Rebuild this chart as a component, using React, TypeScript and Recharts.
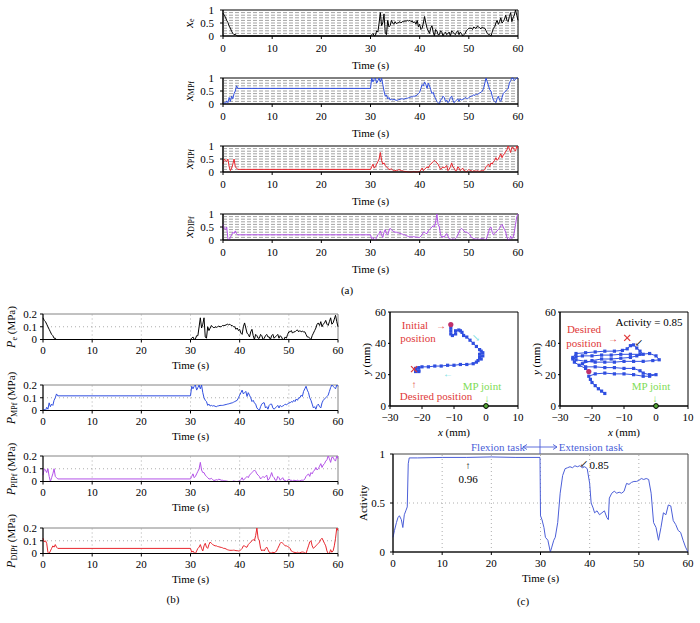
import React from 'react';
import { LineChart, Line, XAxis, YAxis, ReferenceLine, ReferenceArea, ScatterChart, Scatter } from 'recharts';

const FONT = '"Liberation Serif", "DejaVu Serif", serif';
const BLACK = '#000000';
const BLUE = '#2f4ee0';
const RED = '#e8262d';
const PURPLE = '#b352e8';
const ACT_BLUE = '#4c5fd8';
const ANN_RED = '#e03a3a';
const ANN_GREEN = '#7edc55';
const ANN_CYAN = '#6fdde0';

// ---- time samples (s) shared by panels (a) and (b)
const TIME = [
  0, 0.25, 0.5, 0.75, 1, 1.25, 1.5, 1.75, 2, 2.25, 2.5, 2.75, 3,
  30,
  30.25, 30.5, 30.75, 31, 31.25, 31.5, 31.75, 32, 32.25, 32.5, 32.75, 33,
  33.25, 33.5, 33.75, 34, 34.25, 34.5, 34.75, 35, 35.25, 35.5, 35.75, 36,
  36.25, 36.5, 36.75, 37, 37.25, 37.5, 37.75, 38, 38.25, 38.5, 38.75, 39,
  39.25, 39.5, 39.75, 40, 40.25, 40.5, 40.75, 41, 41.25, 41.5, 41.75, 42,
  42.25, 42.5, 42.75, 43, 43.25, 43.5, 43.75, 44, 44.25, 44.5, 44.75, 45,
  45.25, 45.5, 45.75, 46, 46.25, 46.5, 46.75, 47, 47.25, 47.5, 47.75, 48,
  48.25, 48.5, 48.75, 49, 49.25, 49.5, 49.75, 50, 50.25, 50.5, 50.75, 51,
  51.25, 51.5, 51.75, 52, 52.25, 52.5, 52.75, 53, 53.25, 53.5, 53.75, 54,
  54.25, 54.5, 54.75, 55, 55.25, 55.5, 55.75, 56, 56.25, 56.5, 56.75, 57,
  57.25, 57.5, 57.75, 58, 58.25, 58.5, 58.75, 59, 59.25, 59.5, 59.75, 60,
];

// ---- panel (a): normalised commands
const XE = [
  0.88, 0.8, 0.72, 0.6, 0.52, 0.38, 0.3, 0.18, 0.1, 0.05, 0.07, 0.02, 0,
  0,
  0.05, 0.1, 0, 0.02, 0.2, 0.15, 0.5, 0.9, 0.4, 0.5, 0.85, 0.1,
  0.05, 0.6, 0.35, 0.4, 0.6, 0.5, 0.45, 0.55, 0.48, 0.5, 0.52, 0.55,
  0.5, 0.56, 0.55, 0.58, 0.57, 0.6, 0.58, 0.6, 0.55, 0.58, 0.5, 0.55,
  0.45, 0.6, 0.35, 0.45, 0.25, 0.3, 0.5, 0.75, 0.5, 0.3, 0.2, 0.1,
  0.3, 0.4, 0.15, 0, 0.25, 0.2, 0.05, 0.05, 0.2, 0.15, 0, 0.1,
  0.15, 0.05, 0.1, 0.15, 0, 0.2, 0.15, 0.1, 0.05, 0.15, 0.2, 0.05,
  0.15, 0.1, 0, 0.05, 0.1, 0.2, 0.25, 0.3, 0.3, 0.3, 0.25, 0.35,
  0.3, 0.3, 0.38, 0.35, 0.3, 0.28, 0.35, 0.3, 0.3, 0.2, 0.1, 0.05,
  0.05, 0, 0.15, 0.3, 0.35, 0.5, 0.6, 0.45, 0.55, 0.7, 0.5, 0.55,
  0.65, 0.8, 0.6, 0.55, 0.75, 0.9, 0.55, 0.7, 0.8, 1, 0.8, 0.6,
];
const XMPF = [
  0, 0.05, 0.02, 0.12, 0.05, 0.25, 0.1, 0.3, 0.2, 0.4, 0.5, 0.7, 0.6,
  0.6,
  1, 0.85, 0.95, 1, 0.8, 0.9, 1, 0.85, 1, 0.75, 0.5, 0.3,
  0.35, 0.2, 0.25, 0.15, 0.2, 0.15, 0.18, 0.16, 0.14, 0.15, 0.17, 0.18,
  0.2, 0.2, 0.18, 0.2, 0.22, 0.22, 0.24, 0.25, 0.28, 0.27, 0.3, 0.3,
  0.32, 0.35, 0.4, 0.45, 0.6, 0.75, 0.7, 0.85, 0.75, 0.6, 0.8, 0.7,
  0.55, 0.4, 0.45, 0.3, 0.2, 0.1, 0.05, 0, 0.15, 0.2, 0.3, 0.25,
  0.1, 0.15, 0.05, 0.1, 0.25, 0.3, 0.15, 0.05, 0.1, 0.15, 0.2, 0.1,
  0.2, 0.15, 0.18, 0.2, 0.25, 0.22, 0.2, 0.25, 0.28, 0.3, 0.32, 0.35,
  0.33, 0.38, 0.36, 0.4, 0.43, 0.45, 0.5, 0.6, 0.8, 1, 0.85, 0.7,
  0.55, 0.5, 0.3, 0.15, 0.1, 0.05, 0.2, 0.3, 0.15, 0.1, 0.25, 0.4,
  0.45, 0.5, 0.55, 0.6, 0.8, 0.9, 1, 1, 0.9, 0.95, 1, 1,
];
const XPIPF = [
  0.3, 0.5, 0.45, 0.4, 0.5, 0.2, 0.05, 0.15, 0.3, 0.5, 0.2, 0.15, 0.1,
  0.1,
  0.2, 0.3, 0.15, 0.2, 0.3, 0.4, 0.5, 0.75, 0.45, 0.3, 0.35, 0.25,
  0.2, 0.15, 0.1, 0.1, 0.12, 0.08, 0.04, 0.05, 0.07, 0.06, 0.09, 0.08,
  0.05, 0.05, 0.03, 0.02, 0.02, 0.01, 0, 0, 0, 0, 0.02, 0.01,
  0, 0, 0.01, 0.02, 0.08, 0.15, 0.05, 0.1, 0.15, 0.2, 0.15, 0.25,
  0.3, 0.35, 0.4, 0.45, 0.4, 0.35, 0.3, 0.2, 0.1, 0.15, 0.2, 0.15,
  0.2, 0.25, 0.05, 0.1, 0.2, 0.35, 0.2, 0.15, 0.05, 0.05, 0.2, 0.15,
  0.05, 0.1, 0.15, 0.05, 0.05, 0, 0.05, 0.1, 0.05, 0.05, 0.02, 0.05,
  0.04, 0.03, 0.05, 0.03, 0.02, 0.05, 0.05, 0.05, 0.1, 0.2, 0.25, 0.3,
  0.2, 0.35, 0.3, 0.4, 0.45, 0.55, 0.45, 0.5, 0.6, 0.7, 0.55, 0.65,
  0.7, 0.8, 0.85, 1, 0.9, 0.75, 0.95, 0.95, 0.85, 0.8, 1, 0.9,
];
const XDIPF = [
  0.6, 0.45, 0.4, 0.5, 0.05, 0, 0.1, 0.2, 0.3, 0.25, 0.35, 0.25, 0.2,
  0.2,
  0.05, 0.1, 0.02, 0, 0.1, 0.2, 0.25, 0.35, 0.2, 0.1, 0.3, 0.4,
  0.25, 0.2, 0.35, 0.45, 0.4, 0.35, 0.32, 0.3, 0.3, 0.28, 0.27, 0.25,
  0.24, 0.22, 0.2, 0.2, 0.17, 0.15, 0.13, 0.12, 0.12, 0.12, 0.13, 0.12,
  0.11, 0.11, 0.1, 0.1, 0.15, 0.2, 0.3, 0.3, 0.25, 0.25, 0.35, 0.4,
  0.45, 0.5, 0.55, 0.5, 0.7, 1, 0.6, 0.5, 0.2, 0.1, 0.15, 0.1,
  0.2, 0.25, 0.15, 0.05, 0.03, 0.02, 0.05, 0.02, 0.05, 0.1, 0.2, 0.3,
  0.4, 0.45, 0.4, 0.35, 0.3, 0.3, 0.28, 0.25, 0.2, 0.1, 0.08, 0.05,
  0.04, 0.03, 0.05, 0.03, 0.02, 0.05, 0.06, 0.05, 0.02, 0, 0.15, 0.3,
  0.45, 0.5, 0.3, 0.2, 0.25, 0.3, 0.35, 0.4, 0.45, 0.55, 0.6, 0.5,
  0.4, 0.3, 0.1, 0, 0, 0.15, 0.05, 0.1, 0.3, 0.6, 0.9, 1,
];

// ---- panel (b): pressures (MPa)
const PE = [
  0.17, 0.15, 0.14, 0.12, 0.1, 0.08, 0.06, 0.04, 0.03, 0.01, 0.01, 0, 0,
  0,
  0.01, 0.02, 0, 0.005, 0.03, 0.03, 0.1, 0.17, 0.09, 0.12, 0.17, 0.02,
  0.01, 0.1, 0.07, 0.09, 0.11, 0.1, 0.09, 0.1, 0.095, 0.1, 0.105, 0.1,
  0.1, 0.11, 0.11, 0.11, 0.115, 0.12, 0.115, 0.12, 0.11, 0.11, 0.1, 0.1,
  0.08, 0.09, 0.07, 0.08, 0.05, 0.04, 0.1, 0.13, 0.09, 0.05, 0.04, 0.02,
  0.06, 0.08, 0.03, 0, 0.04, 0.03, 0.01, 0.01, 0.04, 0.03, 0, 0.01,
  0.03, 0.04, 0.02, 0.02, 0, 0.03, 0.04, 0.01, 0.02, 0.03, 0.04, 0.01,
  0.03, 0.02, 0, 0, 0.02, 0.01, 0.04, 0.06, 0.06, 0.07, 0.05, 0.06,
  0.06, 0.07, 0.075, 0.06, 0.07, 0.06, 0.065, 0.06, 0.06, 0.04, 0.02, 0.02,
  0.01, 0, 0.03, 0.05, 0.07, 0.09, 0.12, 0.13, 0.11, 0.14, 0.1, 0.12,
  0.13, 0.15, 0.12, 0.11, 0.14, 0.17, 0.12, 0.13, 0.16, 0.19, 0.14, 0.1,
];
const PMPF = [
  0, 0.01, 0, 0.025, 0.01, 0.06, 0.03, 0.05, 0.04, 0.08, 0.1, 0.13, 0.115,
  0.115,
  0.19, 0.17, 0.19, 0.2, 0.16, 0.18, 0.2, 0.17, 0.2, 0.14, 0.1, 0.08,
  0.07, 0.04, 0.05, 0.035, 0.04, 0.035, 0.038, 0.033, 0.03, 0.035, 0.037, 0.04,
  0.04, 0.04, 0.042, 0.045, 0.047, 0.05, 0.052, 0.055, 0.058, 0.06, 0.065, 0.07,
  0.075, 0.08, 0.1, 0.12, 0.14, 0.16, 0.13, 0.14, 0.15, 0.11, 0.14, 0.12,
  0.1, 0.07, 0.08, 0.06, 0.05, 0.02, 0.01, 0, 0.03, 0.05, 0.06, 0.06,
  0.02, 0.03, 0.01, 0.04, 0.05, 0.05, 0.02, 0.01, 0.02, 0.03, 0.04, 0.02,
  0.04, 0.03, 0.035, 0.04, 0.05, 0.045, 0.05, 0.06, 0.06, 0.07, 0.065, 0.08,
  0.07, 0.09, 0.08, 0.1, 0.1, 0.12, 0.11, 0.15, 0.17, 0.19, 0.16, 0.14,
  0.1, 0.08, 0.05, 0.02, 0.03, 0.01, 0.04, 0.05, 0.03, 0.02, 0.06, 0.08,
  0.09, 0.1, 0.11, 0.12, 0.15, 0.18, 0.2, 0.19, 0.18, 0.17, 0.2, 0.19,
];
const PPIPF = [
  0.05, 0.1, 0.09, 0.07, 0.1, 0.04, 0, 0.03, 0.06, 0.1, 0.04, 0.03, 0.02,
  0.02,
  0.04, 0.06, 0.03, 0.04, 0.06, 0.08, 0.1, 0.15, 0.09, 0.07, 0.07, 0.05,
  0.04, 0.03, 0.02, 0.02, 0.025, 0.015, 0.008, 0.01, 0.014, 0.012, 0.018, 0.015,
  0.01, 0.01, 0.006, 0.005, 0.004, 0.002, 0, 0, 0, 0, 0.004, 0.002,
  0, 0, 0.002, 0.005, 0.015, 0.03, 0.01, 0.02, 0.03, 0.04, 0.03, 0.05,
  0.06, 0.07, 0.08, 0.09, 0.08, 0.06, 0.05, 0.04, 0.02, 0.03, 0.04, 0.03,
  0.04, 0.05, 0.01, 0.02, 0.04, 0.07, 0.04, 0.03, 0.01, 0.01, 0.04, 0.03,
  0.01, 0.02, 0.03, 0.01, 0.01, 0, 0.01, 0.02, 0.01, 0.01, 0.004, 0.01,
  0.008, 0.005, 0.01, 0.005, 0.004, 0.01, 0.01, 0.01, 0.02, 0.04, 0.05, 0.06,
  0.04, 0.07, 0.06, 0.08, 0.09, 0.11, 0.09, 0.1, 0.12, 0.14, 0.11, 0.13,
  0.14, 0.16, 0.17, 0.2, 0.18, 0.15, 0.19, 0.19, 0.17, 0.16, 0.2, 0.18,
];
const PDIPF = [
  0.12, 0.09, 0.1, 0.08, 0.01, 0, 0.02, 0.04, 0.06, 0.05, 0.07, 0.05, 0.04,
  0.04,
  0.01, 0.02, 0.005, 0, 0.02, 0.04, 0.05, 0.07, 0.04, 0.02, 0.06, 0.08,
  0.05, 0.04, 0.07, 0.09, 0.08, 0.07, 0.065, 0.06, 0.06, 0.055, 0.053, 0.05,
  0.048, 0.045, 0.04, 0.04, 0.035, 0.03, 0.027, 0.025, 0.025, 0.025, 0.026, 0.025,
  0.022, 0.022, 0.02, 0.02, 0.03, 0.04, 0.06, 0.06, 0.05, 0.05, 0.07, 0.08,
  0.09, 0.1, 0.11, 0.1, 0.14, 0.2, 0.12, 0.1, 0.04, 0.02, 0.03, 0.02,
  0.04, 0.05, 0.03, 0.01, 0.006, 0.005, 0.01, 0.005, 0.01, 0.02, 0.04, 0.06,
  0.08, 0.09, 0.08, 0.07, 0.06, 0.06, 0.055, 0.05, 0.04, 0.02, 0.015, 0.01,
  0.008, 0.005, 0.01, 0.005, 0.005, 0.01, 0.012, 0.01, 0.005, 0, 0.03, 0.06,
  0.09, 0.1, 0.06, 0.04, 0.05, 0.06, 0.07, 0.08, 0.09, 0.11, 0.12, 0.1,
  0.08, 0.06, 0.02, 0, 0, 0.03, 0.01, 0.02, 0.06, 0.12, 0.2, 0.18,
];

// ---- panel (c): activity
const ACT_T = [
  0, 0.3, 0.7, 1, 1.3, 1.7, 2, 2.3, 2.6, 2.9,
  3.1, 3.3, 5, 10, 15, 20, 25, 29.9, 30, 30.3,
  30.7, 31, 31.5, 32, 32.3, 32.7, 33, 33.5, 34, 34.5,
  35, 35.5, 36, 36.5, 37, 37.5, 38, 38.5, 39, 39.5,
  40, 40.3, 40.7, 41, 41.5, 42, 42.5, 43, 43.5, 43.8,
  44, 44.5, 45, 45.5, 46, 46.5, 47, 47.5, 48, 48.5,
  49, 49.5, 50, 50.5, 51, 51.5, 52, 52.5, 53, 53.5,
  54, 54.5, 55, 55.5, 56, 56.5, 57, 57.5, 58, 58.5,
  59, 59.5, 60,
];
const ACT_V = [
  0.15, 0.22, 0.3, 0.35, 0.37, 0.33, 0.25, 0.38, 0.42, 0.46,
  0.9, 0.96, 0.96, 0.965, 0.965, 0.97, 0.965, 0.965, 0.37, 0.33,
  0.25, 0.15, 0.12, 0, 0.05, 0.12, 0.15, 0.3, 0.6, 0.78,
  0.85, 0.86, 0.87, 0.86, 0.88, 0.87, 0.88, 0.86, 0.87, 0.85,
  0.7, 0.5, 0.45, 0.4, 0.42, 0.38, 0.4, 0.42, 0.35, 0.33,
  0.55, 0.6, 0.62, 0.6, 0.61, 0.6, 0.62, 0.7, 0.69, 0.71,
  0.72, 0.72, 0.73, 0.75, 0.74, 0.75, 0.74, 0.6, 0.3, 0.25,
  0.12, 0.25, 0.4, 0.38, 0.48, 0.47, 0.32, 0.28, 0.22, 0.2,
  0.12, 0.05, 0,
];

// ---- panel (c): fingertip trajectories (mm)
const TRAJ1_X = [
  -11, -11, -11, -11, -10.5, -9.5, -9.5, -8.5, -8, -7.5,
  -7, -6, -5, -4, -3, -2, -1.5, -1, -2, -1,
  -2, -1.5, -2.5, -3, -4, -6, -8, -10, -12, -14,
  -16, -18, -20, -21, -22, -22, -21, -22, -21,
];
const TRAJ1_Y = [
  52, 50, 48, 46, 45, 46, 48, 48.5, 48, 47,
  45, 44, 42, 40, 38, 36, 35, 34, 33, 32,
  31, 30, 29, 28, 27, 26.5, 26.5, 26, 26, 25.5,
  25.5, 25, 25, 24.5, 24, 23, 22.5, 22, 22,
];
const INIT1 = [-11, 52];
const DESIRED1 = [-22.5, 23.5];

const TRAJ2_X = [
  -21, -22, -24, -25.5, -26, -25, -23, -20, -17, -14,
  -11, -8, -5, -2, 0, 1, -1, -4, -7, -10,
  -13, -16, -19, -22, -25, -26, -25, -22, -19, -16,
  -13, -10.5, -9, -8, -7, -6, -5, -4, -6, -8,
  -11, -14, -17, -20, -23, -22, -19, -16, -13, -10,
  -7, -5, -4, -2, 0, -2, -4, -7, -10, -13,
  -16, -19, -21, -20.5, -20, -19, -18, -17, -16,
];
const TRAJ2_Y = [
  22, 24, 26, 28, 30, 31.5, 32, 32, 32.5, 32.5,
  33, 33, 33, 33.5, 32, 29.5, 29, 28.5, 28.5, 28.5,
  28, 28, 28, 28.5, 29.5, 31, 33.5, 34, 34.5, 35,
  35, 35.5, 36.5, 38.5, 39, 37, 35, 33, 32, 31,
  30.5, 30, 30, 29, 27, 25, 25, 24.5, 24.5, 24,
  24, 22.5, 21, 20, 20, 19, 19, 20, 20.5, 20.5,
  21, 20.5, 19, 17, 15, 13, 11, 9.5, 8,
];
const INIT2 = [-21, 22];
const DESIRED2 = [-9, 43.5];
const MP_JOINT = [0, 0];

// ---- ticks / grid levels
const TIME_TICKS = [0, 10, 20, 30, 40, 50, 60];
const LEVEL_TICKS = [0, 0.5, 1];
const LEVEL_GRID = [0.1, 0.2, 0.3, 0.4, 0.5, 0.6, 0.7, 0.8, 0.9];
const P_TICKS = [0, 0.1, 0.2];
const P_GRID = [0.1];
const TIME_GRID = [10, 20, 30, 40, 50];
const ACT_TICKS = [0, 0.5, 1];
const ACT_GRID = [0.5];
const MM_X_TICKS = [-30, -20, -10, 0, 10];
const MM_Y_TICKS = [0, 20, 40, 60];

const ROWS = TIME.map((t, i) => ({
  t,
  xe: XE[i], xmpf: XMPF[i], xpipf: XPIPF[i], xdipf: XDIPF[i],
  pe: PE[i], pmpf: PMPF[i], ppipf: PPIPF[i], pdipf: PDIPF[i],
}));
const ACT_ROWS = ACT_T.map((t, i) => ({ t, a: ACT_V[i] }));
const TRAJ1 = TRAJ1_X.map((x, i) => ({ x, y: TRAJ1_Y[i] }));
const TRAJ2 = TRAJ2_X.map((x, i) => ({ x, y: TRAJ2_Y[i] }));

const tickStyle = { fontSize: 11, fill: '#000', fontFamily: FONT };
const minus = (v: number) => (v < 0 ? '\u2212' + Math.abs(v) : String(v));

function TimePlot({ left, top, w, h, dataKey, color, yMax, yTicks, kind }: any) {
  const padL = 40, padT = 9, padR = 8;
  const padB = kind === 'a' ? 37 : 33;
  return (
    <div style={{ position: 'absolute', left: left - padL, top: top - padT }}>
      <LineChart width={padL + w + padR} height={padT + h + padB} data={ROWS}
        margin={{ top: padT, right: padR, left: 0, bottom: 0 }}>
        <XAxis dataKey="t" type="number" domain={[0, 60]} ticks={TIME_TICKS} interval={0}
          height={padB} tick={tickStyle} tickSize={3} tickMargin={kind === 'a' ? 5 : 4} stroke="#000"
          label={{ value: 'Time (s)', position: 'insideBottom', offset: 4, fontSize: 11, fill: '#000', fontFamily: FONT }} />
        <YAxis type="number" domain={[0, yMax]} ticks={yTicks} interval={0} width={padL}
          tick={tickStyle} tickSize={3} tickMargin={kind === 'a' ? 6 : 3} stroke="#000" />
        {kind === 'a'
          ? LEVEL_GRID.map((v) => (
              <ReferenceLine key={'g' + v} y={v} stroke="#8c8c8c" strokeDasharray="4 2" strokeWidth={0.8} />
            ))
          : null}
        {kind === 'b'
          ? TIME_GRID.map((v) => (
              <ReferenceLine key={'v' + v} x={v} stroke="#999" strokeDasharray="1 3" strokeWidth={0.8} />
            ))
          : null}
        {kind === 'b'
          ? P_GRID.map((v) => (
              <ReferenceLine key={'h' + v} y={v} stroke="#999" strokeDasharray="1 3" strokeWidth={0.8} />
            ))
          : null}
        <ReferenceArea x1={0} x2={60} y1={0} y2={yMax} fill="none" fillOpacity={0}
          stroke={kind === 'a' ? '#000' : '#666'} strokeWidth={kind === 'a' ? 1 : 0.8} />
        <Line type="linear" dataKey={dataKey} stroke={color} strokeWidth={1} dot={false} isAnimationActive={false} />
      </LineChart>
    </div>
  );
}

const squareShape = (p: any) => (
  <rect x={p.cx - 1.6} y={p.cy - 1.6} width={3.2} height={3.2} fill={BLUE} />
);
const initShape = (p: any) => <circle cx={p.cx} cy={p.cy} r={2.6} fill="#c0306a" />;
const crossShape = (p: any) => (
  <g stroke={ANN_RED} strokeWidth={1.2}>
    <line x1={p.cx - 3} y1={p.cy - 3} x2={p.cx + 3} y2={p.cy + 3} />
    <line x1={p.cx - 3} y1={p.cy + 3} x2={p.cx + 3} y2={p.cy - 3} />
  </g>
);
const jointShape = (p: any) => (
  <circle cx={p.cx} cy={p.cy} r={2.4} fill="#55aa33" stroke="#000" strokeWidth={1} />
);

function TrajPlot({ left, top, traj, init, desired }: any) {
  const padL = 40, padT = 9, padR = 10, padB = 23;
  const w = 128, h = 94;
  return (
    <div style={{ position: 'absolute', left: left - padL, top: top - padT }}>
      <ScatterChart width={padL + w + padR} height={padT + h + padB}
        margin={{ top: padT, right: padR, left: 0, bottom: 0 }}>
        <XAxis type="number" dataKey="x" domain={[-30, 10]} ticks={MM_X_TICKS} interval={0}
          height={padB} tick={tickStyle} tickSize={3} tickMargin={4} stroke="#000" tickFormatter={minus} />
        <YAxis type="number" dataKey="y" domain={[0, 60]} ticks={MM_Y_TICKS} interval={0}
          width={padL} tick={tickStyle} tickSize={2} tickMargin={2} stroke="#000" />
        <ReferenceArea x1={-30} x2={10} y1={0} y2={60} fill="none" fillOpacity={0} stroke="#000" strokeWidth={1} />
        <Scatter data={traj} line={{ stroke: BLUE, strokeWidth: 1 }} lineType="joint"
          shape={squareShape} isAnimationActive={false} />
        <Scatter data={[{ x: desired[0], y: desired[1] }]} shape={crossShape} isAnimationActive={false} />
        <Scatter data={[{ x: init[0], y: init[1] }]} shape={initShape} isAnimationActive={false} />
        <Scatter data={[{ x: MP_JOINT[0], y: MP_JOINT[1] }]} shape={jointShape} isAnimationActive={false} />
      </ScatterChart>
    </div>
  );
}

function ActivityPlot() {
  const left = 393, top = 454, w = 295, h = 98;
  const padL = 40, padT = 9, padR = 8, padB = 34;
  return (
    <div style={{ position: 'absolute', left: left - padL, top: top - padT }}>
      <LineChart width={padL + w + padR} height={padT + h + padB} data={ACT_ROWS}
        margin={{ top: padT, right: padR, left: 0, bottom: 0 }}>
        <XAxis dataKey="t" type="number" domain={[0, 60]} ticks={TIME_TICKS} interval={0}
          height={padB} tick={tickStyle} tickSize={3} tickMargin={4} stroke="#000"
          label={{ value: 'Time (s)', position: 'insideBottom', offset: 4, fontSize: 11, fill: '#000', fontFamily: FONT }} />
        <YAxis type="number" domain={[0, 1]} ticks={ACT_TICKS} interval={0} width={padL}
          tick={tickStyle} tickSize={3} tickMargin={5} stroke="#000" />
        {TIME_GRID.map((v) => (
          <ReferenceLine key={'v' + v} x={v} stroke="#999" strokeDasharray="1 3" strokeWidth={0.8} />
        ))}
        {ACT_GRID.map((v) => (
          <ReferenceLine key={'h' + v} y={v} stroke="#999" strokeDasharray="1 3" strokeWidth={0.8} />
        ))}
        <ReferenceArea x1={0} x2={60} y1={0} y2={1} fill="none" fillOpacity={0} stroke="#444" strokeWidth={1} />
        <Line type="linear" dataKey="a" stroke={ACT_BLUE} strokeWidth={1} dot={false} isAnimationActive={false} />
      </LineChart>
    </div>
  );
}

const T = ({ x, y, c = '#000', s = 11, a = 'middle', children }: any) => (
  <text x={x} y={y} fill={c} fontSize={s} textAnchor={a} dominantBaseline="central">{children}</text>
);

const VLabel = ({ x, y, children }: any) => (
  <text transform={`translate(${x},${y}) rotate(-90)`} textAnchor="middle" dominantBaseline="central" fontSize={11} fill="#000">
    {children}
  </text>
);

const XSub = ({ sub }: any) => (
  <>
    <tspan fontStyle="italic" fontSize={13}>x</tspan>
    <tspan fontSize={8} dy={3}>{sub}</tspan>
  </>
);
const PSub = ({ sub }: any) => (
  <>
    <tspan fontStyle="italic" fontSize={12}>P</tspan>
    <tspan fontSize={8} dy={3}>{sub}</tspan>
    <tspan dy={-3}>{'\u00a0(MPa)'}</tspan>
  </>
);

function Overlay() {
  return (
    <svg width={700} height={623} style={{ position: 'absolute', left: 0, top: 0, pointerEvents: 'none', fontFamily: FONT }}>
      {/* panel (a) y labels */}
      <VLabel x={188} y={23}><XSub sub="e" /></VLabel>
      <VLabel x={188} y={91}><XSub sub="MPf" /></VLabel>
      <VLabel x={188} y={159}><XSub sub="PIPf" /></VLabel>
      <VLabel x={188} y={227}><XSub sub="DIPf" /></VLabel>
      {/* panel (b) y labels */}
      <VLabel x={11} y={327}><PSub sub="e" /></VLabel>
      <VLabel x={11} y={398}><PSub sub="MPf" /></VLabel>
      <VLabel x={11} y={469}><PSub sub="PIPf" /></VLabel>
      <VLabel x={11} y={541}><PSub sub="DIPf" /></VLabel>
      {/* panel (c) axis titles */}
      <VLabel x={366} y={359}><tspan fontStyle="italic">y</tspan><tspan>{'\u00a0(mm)'}</tspan></VLabel>
      <VLabel x={536} y={359}><tspan fontStyle="italic">y</tspan><tspan>{'\u00a0(mm)'}</tspan></VLabel>
      <VLabel x={363} y={503}>Activity</VLabel>
      <text x={454} y={432} fontSize={11} textAnchor="middle" dominantBaseline="central">
        <tspan fontStyle="italic">x</tspan><tspan>{'\u00a0(mm)'}</tspan>
      </text>
      <text x={624} y={432} fontSize={11} textAnchor="middle" dominantBaseline="central">
        <tspan fontStyle="italic">x</tspan><tspan>{'\u00a0(mm)'}</tspan>
      </text>

      {/* trajectory 1 annotations */}
      <T x={415} y={325} c={ANN_RED}>Initial</T>
      <T x={441} y={325} c={ANN_RED} s={10}>{'\u2192'}</T>
      <T x={418} y={338} c={ANN_RED}>position</T>
      <T x={414} y={384} c={ANN_RED} s={10}>{'\u2191'}</T>
      <T x={436} y={396} c={ANN_RED}>Desired position</T>
      <T x={482} y={386} c={ANN_GREEN}>MP joint</T>
      <T x={487} y={398} c={ANN_GREEN} s={10}>{'\u2193'}</T>
      <T x={476} y={337} c={ANN_CYAN} s={10}>{'\u2198'}</T>
      <T x={448} y={373} c={ANN_CYAN} s={10}>{'\u2190'}</T>

      {/* trajectory 2 annotations */}
      <T x={649} y={322}>Activity = 0.85</T>
      <T x={584} y={329} c={ANN_RED}>Desired</T>
      <T x={584} y={343} c={ANN_RED}>position</T>
      <T x={613} y={338} c={ANN_RED} s={10}>{'\u2192'}</T>
      <T x={639} y={342} s={10}>{'\u2199'}</T>
      <T x={651} y={386} c={ANN_GREEN}>MP joint</T>
      <T x={655} y={398} c={ANN_GREEN} s={10}>{'\u2193'}</T>

      {/* activity annotations */}
      <T x={498} y={447} c={ACT_BLUE}>Flexion task</T>
      <T x={591} y={447} c={ACT_BLUE}>Extension task</T>
      <g stroke={ACT_BLUE} strokeWidth={0.9} fill="none">
        <line x1={523} y1={447} x2={557} y2={447} />
        <line x1={540} y1={439} x2={540} y2={454} />
        <polyline points="527,444.5 523,447 527,449.5" />
        <polyline points="553,444.5 557,447 553,449.5" />
      </g>
      <T x={468} y={465} s={10}>{'\u2191'}</T>
      <T x={468} y={479}>0.96</T>
      <T x={584} y={463} s={10}>{'\u2199'}</T>
      <T x={599} y={465}>0.85</T>

      {/* panel labels */}
      <T x={347} y={290}>(a)</T>
      <T x={173} y={599}>(b)</T>
      <T x={523} y={601}>(c)</T>
    </svg>
  );
}

export default function App() {
  return (
    <div style={{ position: 'absolute', left: 0, top: 0, width: 700, height: 623, background: '#fff', fontFamily: FONT }}>
      <TimePlot left={223} top={10} w={295} h={26} dataKey="xe" color={BLACK} yMax={1} yTicks={LEVEL_TICKS} kind="a" />
      <TimePlot left={223} top={78} w={295} h={26} dataKey="xmpf" color={BLUE} yMax={1} yTicks={LEVEL_TICKS} kind="a" />
      <TimePlot left={223} top={146} w={295} h={26} dataKey="xpipf" color={RED} yMax={1} yTicks={LEVEL_TICKS} kind="a" />
      <TimePlot left={223} top={214} w={295} h={26} dataKey="xdipf" color={PURPLE} yMax={1} yTicks={LEVEL_TICKS} kind="a" />

      <TimePlot left={43} top={314} w={295} h={25.5} dataKey="pe" color={BLACK} yMax={0.2} yTicks={P_TICKS} kind="b" />
      <TimePlot left={43} top={385} w={295} h={25.5} dataKey="pmpf" color={BLUE} yMax={0.2} yTicks={P_TICKS} kind="b" />
      <TimePlot left={43} top={456} w={295} h={25.5} dataKey="ppipf" color={PURPLE} yMax={0.2} yTicks={P_TICKS} kind="b" />
      <TimePlot left={43} top={528} w={295} h={25.5} dataKey="pdipf" color={RED} yMax={0.2} yTicks={P_TICKS} kind="b" />

      <TrajPlot left={390} top={312} traj={TRAJ1} init={INIT1} desired={DESIRED1} />
      <TrajPlot left={560} top={312} traj={TRAJ2} init={INIT2} desired={DESIRED2} />
      <ActivityPlot />

      <Overlay />
    </div>
  );
}
